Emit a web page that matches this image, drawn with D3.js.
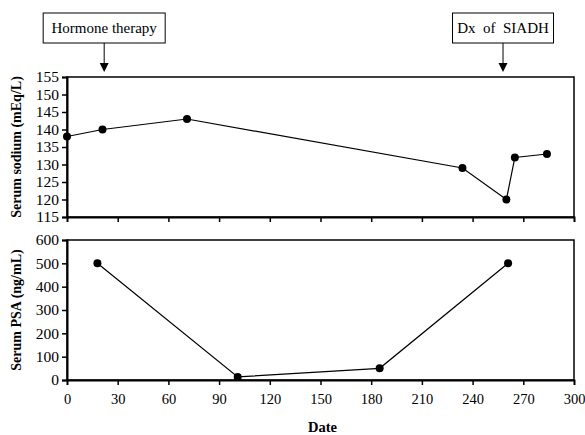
<!DOCTYPE html>
<html><head><meta charset="utf-8">
<script src="https://cdn.jsdelivr.net/npm/d3@7"></script>
<style>body{margin:0;background:#fff}svg{display:block}</style>
</head><body><svg id="c" width="585" height="435"></svg>
<script>
const sodiumDays = [0, 21, 71, 234, 260, 265, 284];
const sodiumValues = [138, 140, 143, 129, 120, 132, 133];
const psaDays = [18, 101, 185, 261];
const psaValues = [500, 13, 50, 500];
const xTicks = [0, 30, 60, 90, 120, 150, 180, 210, 240, 270, 300];
const sodiumTicks = [115, 120, 125, 130, 135, 140, 145, 150, 155];
const psaTicks = [0, 100, 200, 300, 400, 500, 600];
const annotations = [{label: "Hormone therapy", day: 22}, {label: "Dx  of  SIADH", day: 258}];

const FONT = "'Liberation Serif', 'Times New Roman', serif";
const svg = d3.select("#c");
const L = 67, R = 574;
const x = d3.scaleLinear().domain([0, 300]).range([L, R]);
const yS = d3.scaleLinear().domain([115, 155]).range([217, 77]);
const yP = d3.scaleLinear().domain([0, 600]).range([380, 240]);

function styleText(sel, size) {
  sel.style("font-family", FONT).style("font-size", (size || 14) + "px").attr("fill", "#000");
}

function panel(y, ticks, days, vals, title, showLabels) {
  const g = svg.append("g");
  g.append("rect").attr("x", L).attr("y", y.range()[1]).attr("width", R - L)
    .attr("height", y.range()[0] - y.range()[1]).attr("fill", "none").attr("stroke", "#000").attr("stroke-width", 1.5);
  const ya = g.append("g").attr("transform", `translate(${L},0)`)
    .call(d3.axisLeft(y).tickValues(ticks).tickSize(5).tickPadding(3));
  ya.select(".domain").attr("stroke-width", 2);
  ya.selectAll(".tick line").attr("stroke-width", 1.5);
  styleText(ya.selectAll("text"), 15.5);
  const xa = g.append("g").attr("transform", `translate(0,${y.range()[0]})`)
    .call(d3.axisBottom(x).tickValues(xTicks).tickSize(5).tickPadding(9).tickFormat(showLabels ? d3.format("d") : ""));
  xa.select(".domain").attr("stroke-width", 2);
  xa.selectAll(".tick line").attr("stroke-width", 1.5);
  xa.selectAll(".tick line").filter(d => d === 0 || d === 300).remove();
  styleText(xa.selectAll("text"), 14.5);
  const pts = days.map((d, i) => [x(d), y(vals[i])]);
  g.append("path").attr("d", d3.line()(pts)).attr("fill", "none").attr("stroke", "#000").attr("stroke-width", 1.2);
  g.selectAll("circle").data(pts).enter().append("circle")
    .attr("cx", d => d[0]).attr("cy", d => d[1]).attr("r", 4).attr("fill", "#000");
  const cy = (y.range()[0] + y.range()[1]) / 2;
  const t = g.append("text").attr("transform", `translate(21,${cy}) rotate(-90)`).attr("text-anchor", "middle")
    .style("font-weight", "bold").text(title);
  styleText(t, 14);
}
panel(yS, sodiumTicks, sodiumDays, sodiumValues, "Serum sodium (mEq/L)", false);
panel(yP, psaTicks, psaDays, psaValues, "Serum PSA (ng/mL)", true);

styleText(svg.append("text").attr("x", x(150) + 2).attr("y", 432).attr("text-anchor", "middle")
  .style("font-weight", "bold").text("Date"), 14.5);

const boxW = [122, 101];
annotations.forEach((a, i) => {
  const ax = x(a.day);
  const w = boxW[i];
  const g = svg.append("g");
  styleText(g.append("text").attr("x", ax).attr("y", 33).attr("text-anchor", "middle")
    .style("white-space", "pre").text(a.label), 15);
  g.append("rect").attr("x", ax - w / 2).attr("y", 13).attr("width", w).attr("height", 30)
    .attr("fill", "none").attr("stroke", "#000").attr("stroke-width", 1);
  g.append("line").attr("x1", ax).attr("x2", ax).attr("y1", 43).attr("y2", 64).attr("stroke", "#000").attr("stroke-width", 1);
  g.append("path").attr("d", `M${ax - 4.5},63 L${ax + 4.5},63 L${ax},72 Z`).attr("fill", "#000");
});
</script></body></html>
